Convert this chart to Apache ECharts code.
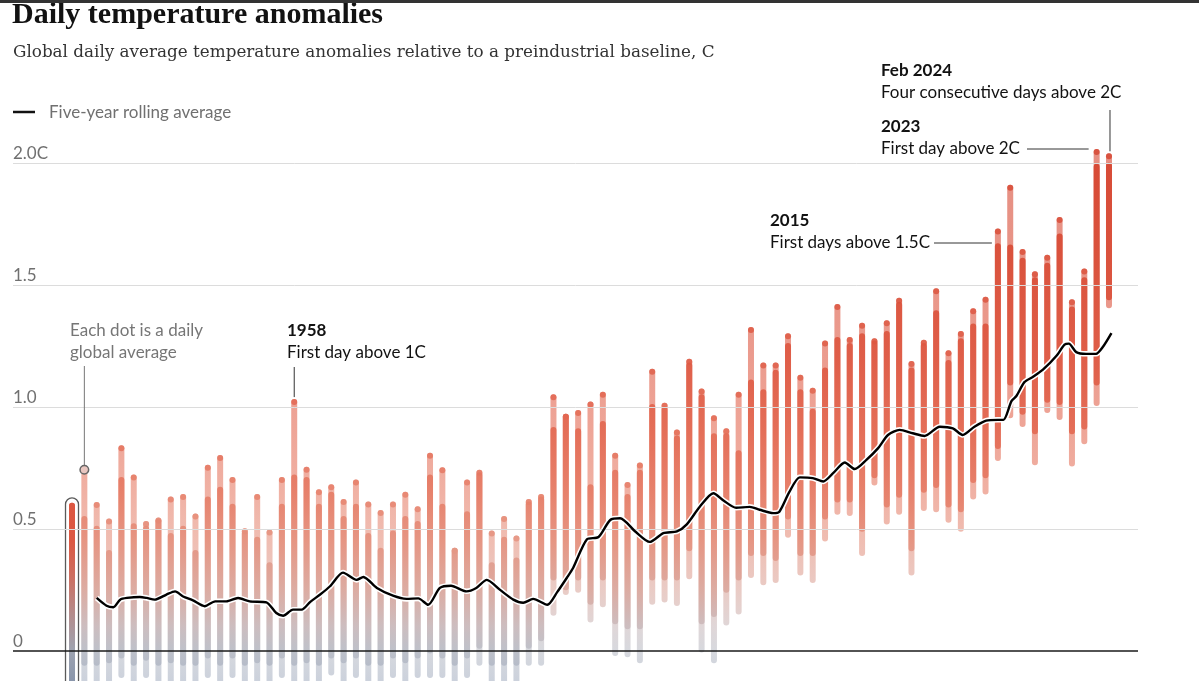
<!DOCTYPE html>
<html><head><meta charset="utf-8">
<script src="https://cdn.jsdelivr.net/npm/echarts@6/dist/echarts.min.js"></script>
<style>html,body{margin:0;padding:0;background:#fff;overflow:hidden}#c{width:1199px;height:681px}</style>
</head><body><div id="c"></div>
<script>
// ---------------- DATA ----------------
const years = [1940,1941,1942,1943,1944,1945,1946,1947,1948,1949,1950,1951,1952,1953,1954,1955,1956,1957,1958,1959,
1960,1961,1962,1963,1964,1965,1966,1967,1968,1969,1970,1971,1972,1973,1974,1975,1976,1977,1978,1979,
1980,1981,1982,1983,1984,1985,1986,1987,1988,1989,1990,1991,1992,1993,1994,1995,1996,1997,1998,1999,
2000,2001,2002,2003,2004,2005,2006,2007,2008,2009,2010,2011,2012,2013,2014,2015,2016,2017,2018,2019,
2020,2021,2022,2023,2024];
// warmest day of each year
const dailyMax = [0.594,0.742,0.598,0.53,0.83,0.71,0.52,0.534,0.62,0.63,0.55,0.75,0.79,0.70,0.49,0.63,0.485,0.70,1.02,0.742,
0.65,0.67,0.61,0.69,0.60,0.565,0.60,0.64,0.58,0.80,0.74,0.41,0.69,0.73,0.48,0.54,0.46,0.61,0.63,1.04,
0.96,0.975,1.01,1.05,0.80,0.68,0.76,1.145,1.005,0.895,1.186,1.063,0.954,0.90,1.05,1.316,1.17,1.17,1.29,1.12,
1.067,1.26,1.41,1.275,1.333,1.27,1.344,1.436,1.176,1.264,1.475,1.22,1.30,1.393,1.44,1.72,1.90,1.636,1.545,1.612,
1.767,1.43,1.556,2.047,2.029];
// top of the dense band of days
const denseTop = [0.537,0.54,0.50,0.40,0.70,0.51,0.50,0.53,0.47,0.50,0.40,0.62,0.66,0.59,0.48,0.455,0.35,0.59,0.71,0.70,
0.59,0.64,0.54,0.59,0.47,0.41,0.48,0.54,0.52,0.71,0.59,0.41,0.56,0.72,0.35,0.455,0.37,0.60,0.62,0.905,
0.96,0.90,0.67,0.93,0.73,0.63,0.73,1.0,0.99,0.87,1.17,1.04,0.88,0.88,0.81,1.10,1.06,1.14,1.25,1.06,
0.98,1.15,1.275,1.25,1.29,1.26,1.30,1.42,1.15,1.25,1.385,1.18,1.27,1.33,1.33,1.66,1.655,1.60,1.52,1.58,
1.70,1.40,1.52,1.986,1.99];
// bottom of the dense band of days
const denseBottom = [-0.25,-0.05,-0.05,-0.04,-0.02,-0.05,-0.03,-0.05,-0.04,-0.05,-0.05,-0.02,-0.05,-0.02,-0.05,-0.04,-0.05,-0.02,-0.05,-0.04,
-0.05,-0.02,-0.04,-0.02,-0.05,-0.05,-0.02,-0.04,-0.02,0.0,-0.02,-0.05,-0.02,0.02,-0.05,-0.05,-0.05,0.02,0.05,0.30,
0.26,0.30,0.20,0.30,0.12,0.10,0.10,0.30,0.30,0.30,0.42,0.12,0.15,0.25,0.30,0.40,0.40,0.38,0.55,0.40,
0.40,0.55,0.62,0.62,0.50,0.72,0.60,0.64,0.42,0.66,0.68,0.60,0.58,0.70,0.72,0.84,1.10,0.98,0.90,1.03,
1.02,0.90,0.92,1.10,1.45];
// coldest day of each year
const dailyMin = [-0.25,-0.2,-0.2,-0.15,-0.1,-0.2,-0.1,-0.2,-0.15,-0.2,-0.2,-0.1,-0.2,-0.1,-0.2,-0.15,-0.2,-0.1,-0.2,-0.15,
-0.2,-0.09,-0.15,-0.1,-0.2,-0.2,-0.1,-0.15,-0.1,-0.1,-0.1,-0.2,-0.1,-0.05,-0.2,-0.2,-0.2,-0.05,-0.05,0.155,
0.24,0.25,0.127,0.19,-0.01,-0.015,-0.04,0.20,0.21,0.195,0.305,0.004,-0.04,0.115,0.16,0.31,0.28,0.29,0.475,0.32,
0.29,0.46,0.57,0.565,0.40,0.69,0.53,0.57,0.32,0.585,0.58,0.537,0.50,0.632,0.653,0.79,0.966,0.93,0.773,0.988,
0.959,0.768,0.859,1.016,1.418];
// five-year rolling average (time in fractional years)
const avgTime = [1942.0,1942.8,1943.35,1943.9,1944.45,1945.5,1946.05,1946.7,1947.65,1948.35,1949.0,1949.8,1950.75,1951.6,1952.5,1953.45,1954.4,1955.75,1956.55,1957.1,
1957.9,1958.6,1959.3,1960.1,1960.9,1961.95,1963.05,1963.6,1964.7,1966.0,1967.1,1968.05,1968.85,1969.8,1970.7,1971.95,1972.75,1973.6,1974.65,1975.75,
1976.55,1977.35,1978.5,1979.3,1980.1,1980.6,1981.7,1982.65,1983.6,1984.4,1985.6,1986.8,1987.9,1989.0,1989.8,1990.85,1991.95,1992.8,1993.8,1994.9,
1995.7,1996.8,1997.3,1998.1,1998.95,2000.0,2000.85,2001.65,2002.6,2003.4,2004.35,2005.3,2006.1,2007.05,2008.1,2009.05,2010.3,2011.35,2012.15,2013.1,
2014.05,2015.0,2015.45,2016.1,2016.5,2017.15,2017.85,2018.65,2019.75,2020.4,2020.75,2021.35,2022.15,2022.95,2023.5,2024.2];
const avgValues = [0.216,0.184,0.178,0.209,0.216,0.220,0.216,0.209,0.230,0.243,0.222,0.206,0.182,0.202,0.202,0.216,0.202,0.198,0.154,0.143,
0.168,0.168,0.200,0.230,0.264,0.320,0.290,0.302,0.257,0.225,0.212,0.214,0.188,0.257,0.266,0.243,0.257,0.290,0.250,0.209,
0.196,0.212,0.188,0.240,0.300,0.340,0.456,0.466,0.536,0.543,0.490,0.446,0.482,0.489,0.518,0.590,0.646,0.615,0.586,0.590,
0.578,0.564,0.570,0.650,0.711,0.708,0.694,0.728,0.772,0.745,0.783,0.831,0.885,0.906,0.892,0.881,0.919,0.912,0.885,0.919,
0.944,0.947,0.947,1.024,1.045,1.102,1.124,1.153,1.210,1.256,1.260,1.225,1.218,1.218,1.246,1.303];
const yTicks = [0, 0.5, 1.0, 1.5, 2.0];
const yTickLabels = ['0', '0.5', '1.0', '1.5', '2.0C'];
const highlightYear = 1940;

// ---------------- STYLE ----------------
const SANS = 'Lato, "Noto Sans", sans-serif';
const colorStops = [[-0.15,'#a6b1c4'],[0.0,'#bcbfc8'],[0.1,'#cbbbbd'],[0.25,'#dba99f'],[0.45,'#e5927f'],[0.65,'#e67d67'],[0.9,'#e36a53'],[1.2,'#de5943'],[1.6,'#d94d37'],[2.1,'#d5432e']];
const hiStops = [[-0.15,'#8593aa'],[0.0,'#9ea3b0'],[0.15,'#b48c8c'],[0.3,'#cc6f62'],[0.45,'#dc5843'],[2.1,'#e04c36']];
const VTOP = 2.1, VBOT = -0.15;
function hex2rgb(h){return [parseInt(h.slice(1,3),16),parseInt(h.slice(3,5),16),parseInt(h.slice(5,7),16)];}
function colorAt(v, stops){
  if (v <= stops[0][0]) return stops[0][1];
  for (let i=1;i<stops.length;i++){
    if (v <= stops[i][0]){
      const t=(v-stops[i-1][0])/(stops[i][0]-stops[i-1][0]);
      const a=hex2rgb(stops[i-1][1]), b=hex2rgb(stops[i][1]);
      return 'rgb('+a.map((c,k)=>Math.round(c+(b[k]-c)*t)).join(',')+')';
    }
  }
  return stops[stops.length-1][1];
}
function gradFill(yTop, yBot, stops){
  const cs = stops.slice().reverse().map(s=>({offset:(VTOP-s[0])/(VTOP-VBOT), color:s[1]}));
  return {type:'linear', x:0, y:yTop, x2:0, y2:yBot, global:true, colorStops:cs};
}

const colData = years.map((y,i)=>[y, dailyMin[i], dailyMax[i], denseBottom[i], denseTop[i]]);
const avgData = avgTime.map((t,i)=>[t, avgValues[i]]);
const maxDots = years.map((y,i)=>[y, dailyMax[i]]);

function renderColumn(params, api){
  const yr = api.value(0), lo = api.value(1), hi = api.value(2), dLo = api.value(3), dHi = api.value(4);
  const w = 6;
  const pT = api.coord([yr, hi]), pB = api.coord([yr, lo]);
  const dT = api.coord([yr, dHi]), dB = api.coord([yr, dLo]);
  const gT = api.coord([yr, VTOP])[1], gB = api.coord([yr, VBOT])[1];
  const hl = yr === highlightYear;
  const fill = gradFill(gT, gB, hl ? hiStops : colorStops);
  const ch = [];
  ch.push({type:'rect', shape:{x:pT[0]-w/2, y:pT[1]-w/2, width:w, height:pB[1]-pT[1]+w, r:w/2}, style:{fill:fill, opacity: hl?1:0.6}});
  ch.push({type:'rect', shape:{x:dT[0]-w/2, y:dT[1]-w/2, width:w, height:dB[1]-dT[1]+w, r:w/2}, style:{fill:fill, opacity: hl?1:0.92}});
  if (hl){
    ch.push({type:'rect', shape:{x:pT[0]-6.5, y:pT[1]-8, width:13, height:pB[1]-pT[1]+60, r:6.5}, style:{fill:'none', stroke:'#5a5a5a', lineWidth:1.3}});
  }
  return {type:'group', children:ch};
}

const chart = echarts.init(document.getElementById('c'), null, {renderer:'canvas'});
chart.setOption({
  animation:false,
  backgroundColor:'#ffffff',
  grid:{left:13, right:61, top:139, bottom:0, containLabel:false},
  xAxis:{type:'value', min:1935.22, max:2026.35, show:false},
  yAxis:{type:'value', min:-0.125, max:VTOP, show:false},
  series:[
    {type:'line', data:[], silent:true, z:1,
     markLine:{silent:true, symbol:['none','none'], animation:false,
       data: yTicks.map((v,i)=>({yAxis:v,
         lineStyle:{color: v===0?'#1a1a1a':'#dcdcdc', width: v===0?1.5:1, type:'solid'},
         label:{show:true, formatter: yTickLabels[i], position:'insideStartTop', distance:[0,1], color:'#707070', fontSize:17, fontFamily:SANS}}))}},
    {type:'custom', data:colData, renderItem:renderColumn, clip:true, z:2, silent:true},
    {type:'scatter', data:maxDots, symbolSize:6, z:3, silent:true,
     itemStyle:{color:(p)=>colorAt(p.value[1], p.value[0]===highlightYear?hiStops:colorStops), opacity:0.8}},
    {type:'line', data:avgData, showSymbol:false, smooth:0.25, z:4, silent:true, lineStyle:{color:'#ffffff', width:5.5}},
    {type:'line', data:avgData, showSymbol:false, smooth:0.25, z:5, silent:true, lineStyle:{color:'#000000', width:2.4}}
  ]
});

// ---------------- ANNOTATIONS ----------------
function px(yr, v){ return chart.convertToPixel({gridIndex:0}, [yr, v]); }
const iMax = (yr)=>dailyMax[years.indexOf(yr)];
const g = [];
function txt(t, x, y, opts){ g.push(Object.assign({type:'text', z:50, style:Object.assign({text:t, x:x, y:y, fill:'#121212', fontSize:17, fontFamily:SANS, verticalAlign:'middle', align:'left'}, opts||{})})); }
function seg(x1,y1,x2,y2,c){ g.push({type:'line', z:50, shape:{x1,y1,x2,y2}, style:{stroke:c||'#333', lineWidth:1}}); }

g.push({type:'rect', z:60, shape:{x:0,y:0,width:1199,height:3}, style:{fill:'#333333'}});
txt('Daily temperature anomalies', 12, 15, {fontSize:30, fontWeight:'bold', fontFamily:'"Liberation Serif", "DejaVu Serif", serif', fill:'#121212'});
txt('Global daily average temperature anomalies relative to a preindustrial baseline, C', 13, 53, {fontSize:16.8, fontFamily:'"DejaVu Serif", serif', fill:'#333333'});
seg(13,112,35,112,'#121212'); g[g.length-1].style.lineWidth = 2.5;
txt('Five-year rolling average', 49, 112.5, {fill:'#707070'});

// Each dot
const p41 = px(1941, iMax(1941));
txt('Each dot is a daily', 70, 331, {fill:'#767676'});
txt('global average', 70, 353, {fill:'#767676'});
seg(p41[0], 366, p41[0], p41[1]-4.5, '#777');
g.push({type:'circle', z:51, shape:{cx:p41[0], cy:p41[1], r:4.3}, style:{fill:'#e9c6c0', stroke:'#666', lineWidth:1.5}});
// 1958
const p58 = px(1958, iMax(1958));
txt('1958', 287, 331, {fontWeight:'bold'});
txt('First day above 1C', 287, 353);
seg(p58[0], 367, p58[0], p58[1]-5);
// 2015
const p15 = px(2015, iMax(2015));
txt('2015', 770, 221, {fontWeight:'bold'});
txt('First days above 1.5C', 770, 243);
seg(934, 243, p15[0]-6, 243);
// 2023
const p23 = px(2023, iMax(2023));
txt('2023', 881, 127, {fontWeight:'bold'});
txt('First day above 2C', 881, 149);
seg(1027, 149, p23[0]-8, 149);
// Feb 2024
const p24 = px(2024, iMax(2024));
txt('Feb 2024', 881, 71, {fontWeight:'bold'});
txt('Four consecutive days above 2C', 881, 93);
seg(p24[0]+1, 110, p24[0]+1, p24[1]-5);

chart.setOption({graphic:g});
</script></body></html>
